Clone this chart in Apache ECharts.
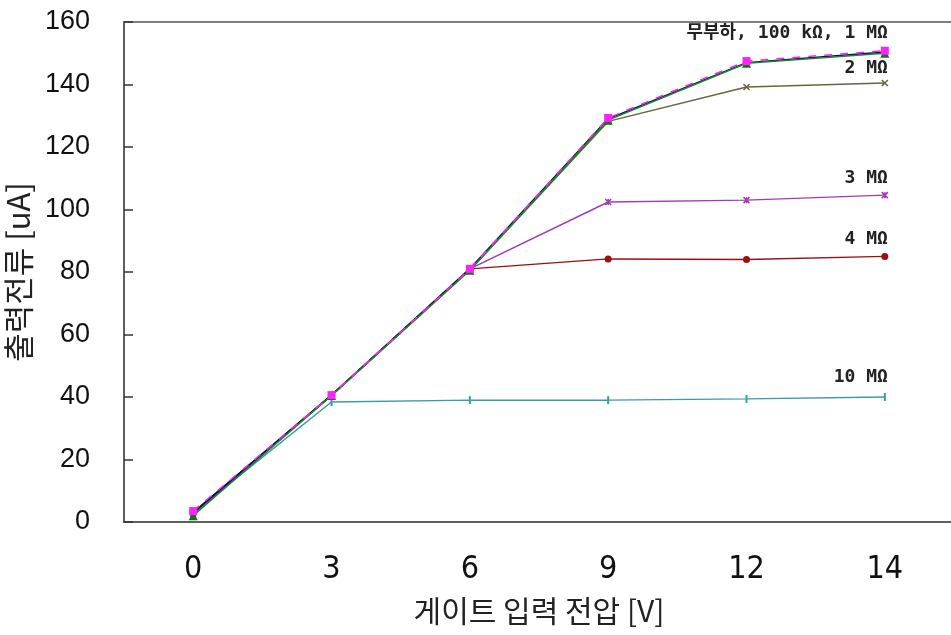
<!DOCTYPE html>
<html>
<head>
<meta charset="utf-8">
<script src="https://cdn.jsdelivr.net/npm/echarts@6/dist/echarts.min.js"></script>
<style>
  html, body { margin: 0; padding: 0; background: #fff; }
  #main { width: 951px; height: 635px; }
</style>
</head>
<body>
<div id="main"></div>
<script>
// gate input voltage categories
var voltages = ['0', '3', '6', '9', '12', '14'];

// output current [uA] per load
var noLoad   = [3.5, 40.6, 81.0, 129.3, 147.5, 150.8];
var load100k = [3.0, 40.6, 81.0, 129.0, 147.0, 150.4];
var load1M   = [2.0, 40.5, 80.6, 128.6, 146.8, 150.0];
var load2M   = [2.5, 40.5, 80.6, 128.2, 139.2, 140.5];
var load3M   = [3.0, 40.5, 81.0, 102.4, 103.0, 104.6];
var load4M   = [3.0, 40.6, 81.0, 84.2, 84.0, 85.0];
var load10M  = [3.0, 38.4, 39.0, 39.0, 39.4, 40.0];

var yTicks = [0, 20, 40, 60, 80, 100, 120, 140, 160];

var labelFont = "'DejaVu Sans Mono', 'Noto Sans CJK KR', monospace";

function withEndLabel(arr, text, dist) {
	return arr.map(function(v, i){
		if(i === arr.length - 1){
			return {
				value: v,
				label: {
					show: true,
					formatter: text,
					position: 'top',
					align: 'right',
					distance: dist,
					offset: [3, 0],
					fontFamily: labelFont,
					fontWeight: 'bold',
					fontSize: 18,
					color: '#222'
				}
			};
		}
		return v;
	});
}

function line(name, data, color, symbol, size, extra) {
	var s = {
		name: name,
		type: 'line',
		data: data,
		symbol: symbol,
		symbolSize: size,
		showSymbol: true,
		lineStyle: { color: color, width: 1.5 },
		itemStyle: { color: color },
		z: 2
	};
	if(extra){ for(var k in extra){ s[k] = extra[k]; } }
	return s;
}

var myChart = echarts.init(document.getElementById('main'));
var option = {
	animation: false,
	backgroundColor: '#fff',
	grid: {
		left: 124, top: 22, bottom: 113, right: -3,
		outerBoundsMode: 'none',
		containLabel: false,
		show: true, borderColor: '#555', borderWidth: 1.5
	},
	xAxis: {
		type: 'category',
		data: voltages,
		boundaryGap: true,
		name: '게이트 입력 전압 [V]',
		nameLocation: 'middle',
		nameGap: 74,
		nameTextStyle: { fontFamily: "'Noto Sans CJK KR'", fontSize: 30, color: '#222' },
		axisLine: { lineStyle: { color: '#555', width: 1.5 } },
		axisTick: { inside: true, length: 9, alignWithLabel: false, lineStyle: { color: '#333', width: 1.5 } },
		axisLabel: {
			margin: 32,
			fontFamily: "'Liberation Sans Narrow', 'DejaVu Sans Condensed', sans-serif",
			fontSize: 32,
			color: '#111'
		},
		splitLine: { show: false }
	},
	yAxis: {
		type: 'value',
		min: yTicks[0],
		max: yTicks[yTicks.length - 1],
		interval: 20,
		name: '출력전류 [uA]',
		nameLocation: 'middle',
		nameGap: 87,
		nameRotate: 90,
		nameTextStyle: { fontFamily: "'Noto Sans CJK KR'", fontSize: 31, color: '#222' },
		axisLine: { show: true, lineStyle: { color: '#555', width: 1.5 } },
		axisTick: { show: true, inside: true, length: 9, lineStyle: { color: '#333', width: 1.5 } },
		axisLabel: {
			margin: 34,
			fontFamily: "'Liberation Sans', Arial, sans-serif",
			fontSize: 27,
			color: '#111'
		},
		splitLine: { show: false }
	},
	series: [
		line('10 MΩ', withEndLabel(load10M, '10 MΩ', 7), '#3a9c9c', 'rect', [2, 8]),
		line('4 MΩ', withEndLabel(load4M, '4 MΩ', 5), '#9a1010', 'circle', 7),
		line('3 MΩ', withEndLabel(load3M, '3 MΩ', 4), '#a03cb4', 'path://M0,0L10,10M10,0L0,10M5,0L5,10', 6,
			{ itemStyle: { color: '#a03cb4', borderColor: '#a03cb4', borderWidth: 1.5 } }),
		line('2 MΩ', withEndLabel(load2M, '2 MΩ', 2), '#66663a', 'path://M0,0L10,10M10,0L0,10', 6,
			{ itemStyle: { color: '#66663a', borderColor: '#66663a', borderWidth: 1.5 } }),
		line('100 kΩ', load100k, '#000080', 'diamond', 6),
		line('1 MΩ', load1M, '#1a8a1a', 'triangle', 9, { itemStyle: { color: '#137313' } }),
		line('무부하', withEndLabel(noLoad, '무부하, 100 kΩ, 1 MΩ', 4), '#ff22ff', 'rect', 8,
			{ lineStyle: { color: '#ff22ff', width: 1.5, type: [8, 8] } })
	]
};
myChart.setOption(option);
</script>
</body>
</html>
